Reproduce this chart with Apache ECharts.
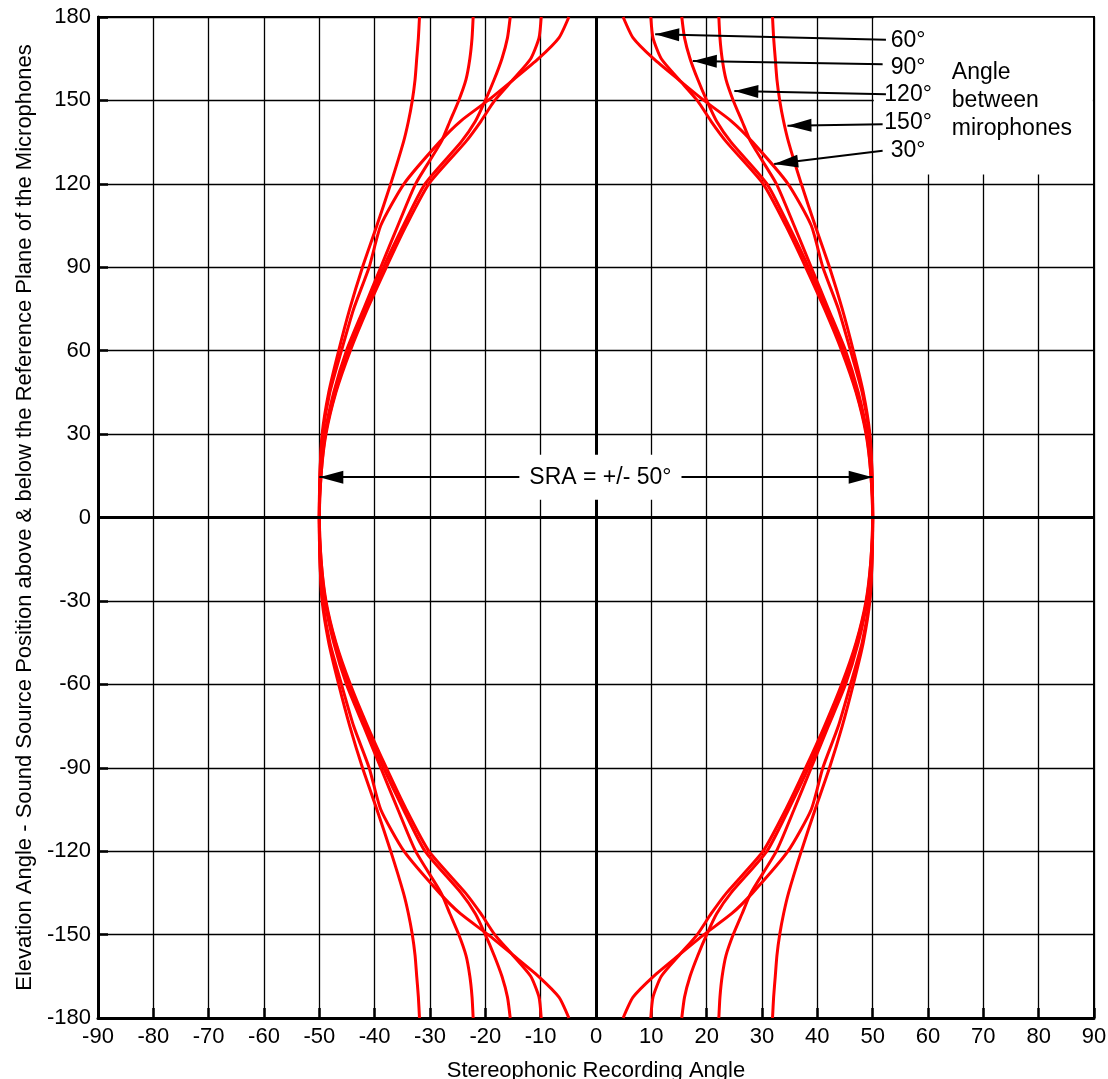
<!DOCTYPE html>
<html>
<head>
<meta charset="utf-8">
<script src="https://cdn.jsdelivr.net/npm/echarts@6/dist/echarts.min.js"></script>
<style>
  html, body { margin: 0; padding: 0; background: #fff; }
  #chart { width: 1108px; height: 1079px; }
</style>
</head>
<body>
<div id="chart"></div>
<script>
// elevation (deg) of the upper right quarter, curves are symmetric in x and y
const elevation = [0, 15, 30, 45, 60, 75, 90, 105, 120, 135, 142.5, 150, 157.5, 165, 172.5, 180];
// stereophonic recording angle, one list per microphone angle
const sra30 = [50, 49.9, 49.4, 48.1, 46.0, 43.8, 41.0, 38.9, 34.7, 28.3, 24.5, 19.5, 14.9, 10.4, 6.7, 4.9];
const sra60 = [50, 49.7, 48.8, 47.0, 44.4, 41.3, 37.9, 34.3, 30.2, 23.6, 20.8, 18.3, 15.0, 11.8, 10.3, 9.9];
const sra90 = [50, 49.7, 48.9, 47.1, 44.7, 41.6, 38.4, 34.8, 30.9, 24.4, 21.8, 20.0, 18.4, 17.0, 16.0, 15.5];
const sra120 = [50, 49.8, 49.0, 47.4, 45.1, 42.0, 38.9, 35.8, 32.6, 28.0, 26.4, 24.8, 23.5, 22.8, 22.4, 22.2];
const sra150 = [50, 49.9, 49.5, 48.3, 46.5, 44.5, 42.2, 39.6, 37.1, 34.8, 33.9, 33.2, 32.7, 32.4, 32.1, 31.9];

const curveNames = ["30°", "60°", "90°", "120°", "150°"];
const curveValues = [sra30, sra60, sra90, sra120, sra150];

// arrow from label [x, y] to the curve [x, y]
const labelArrows = [
  [52.4, 171.8, 10.7, 173.8],
  [51.8, 163.0, 17.5, 164.2],
  [52.4, 152.2, 25.0, 153.4],
  [51.8, 141.4, 34.6, 140.9],
  [51.8, 131.9, 32.2, 127.1],
];
const labelTexts = ["60°", "90°", "120°", "150°", "30°"];
const labelY = [171.6, 161.8, 152.0, 142.0, 131.9];

const font = "'Liberation Sans', Arial, Helvetica, sans-serif";

const myChart = echarts.init(document.getElementById("chart"));

// build one branch from -180 to 180, side = 1 right, -1 left
const branch = (vals, side) => {
  const pts = [];
  for (let i = elevation.length - 1; i > 0; i--) pts.push([side * vals[i], -elevation[i]]);
  for (let i = 0; i < elevation.length; i++) pts.push([side * vals[i], elevation[i]]);
  return pts;
};

const series = [];

// zero lines and white box behind the legend text
series.push({
  type: "line",
  data: [],
  z: 1,
  silent: true,
  markLine: {
    silent: true,
    symbol: "none",
    animation: false,
    label: { show: false },
    lineStyle: { color: "#000", width: 3, type: "solid" },
    data: [{ xAxis: 0 }, { yAxis: 0 }],
  },
  markArea: {
    silent: true,
    animation: false,
    itemStyle: { color: "#fff" },
    data: [[{ coord: [50.2, 123.4] }, { coord: [89.8, 179.7] }]],
  },
});

curveValues.forEach((vals, k) => {
  [1, -1].forEach((side) => {
    series.push({
      name: curveNames[k],
      type: "line",
      data: branch(vals, side),
      symbol: "none",
      smooth: 0.2,
      z: 3,
      silent: true,
      lineStyle: { color: "#ff0000", width: 3 },
    });
  });
});

const head = { symbol: "triangle", symbolSize: [13, 24], symbolOffset: [0, 12] };
const arrowData = labelArrows.map((a) => [
  { coord: [a[0], a[1]], symbol: "none" },
  Object.assign({ coord: [a[2], a[3]] }, head),
]);
arrowData.push([
  Object.assign({ coord: [-50, 14.5] }, head),
  Object.assign({ coord: [50, 14.5] }, head),
]);

const textStyle = { color: "#000", fontSize: 23, fontFamily: font, opacity: 1 };
const labelData = labelTexts.map((t, i) => ({
  value: [56.4, labelY[i]],
  label: Object.assign({ show: true, position: "inside", formatter: t }, textStyle),
}));
labelData.push({
  value: [64.3, 150.0],
  label: Object.assign(
    { show: true, position: "right", distance: 0, align: "left", lineHeight: 28, formatter: "Angle\nbetween\nmirophones" },
    textStyle
  ),
});
labelData.push({
  value: [0.8, 14.5],
  label: Object.assign(
    { show: true, position: "inside", formatter: "SRA = +/- 50°", backgroundColor: "#fff", padding: [11, 10] },
    textStyle
  ),
});

series.push({
  type: "scatter",
  data: labelData,
  symbolSize: 0,
  z: 10,
  silent: true,
  itemStyle: { opacity: 1, color: "#000" },
  markLine: {
    silent: true,
    animation: false,
    label: { show: false },
    lineStyle: { color: "#000", width: 2, type: "solid", opacity: 1 },
    itemStyle: { color: "#000", opacity: 1 },
    data: arrowData,
  },
});

myChart.setOption({
  animation: false,
  backgroundColor: "#fff",
  grid: {
    left: 98,
    right: 14,
    top: 17,
    bottom: 61,
    outerBoundsMode: "none",
    containLabel: false,
    show: true,
    borderColor: "#000",
    borderWidth: 2,
    backgroundColor: "#fff",
  },
  xAxis: {
    type: "value",
    min: -90,
    max: 90,
    interval: 10,
    name: "Stereophonic Recording Angle",
    nameLocation: "middle",
    nameGap: 42,
    nameTextStyle: { color: "#000", fontSize: 22, fontFamily: font },
    axisLine: { onZero: false, lineStyle: { color: "#000", width: 3 } },
    axisTick: { inside: true, length: 10, lineStyle: { color: "#000", width: 2.5 } },
    axisLabel: { color: "#000", fontSize: 22, fontFamily: font, margin: 8 },
    splitLine: { show: true, lineStyle: { color: "#000", width: 1.3 } },
  },
  yAxis: {
    type: "value",
    min: -180,
    max: 180,
    interval: 30,
    name: "Elevation Angle - Sound Source Position above & below the Reference Plane of the Microphones",
    nameLocation: "middle",
    nameGap: 62,
    nameTextStyle: { color: "#000", fontSize: 22, fontFamily: font },
    axisLine: { show: true, onZero: false, lineStyle: { color: "#000", width: 3 } },
    axisTick: { show: true, inside: true, length: 10, lineStyle: { color: "#000", width: 2.5 } },
    axisLabel: { color: "#000", fontSize: 22, fontFamily: font, margin: 7 },
    splitLine: { show: true, lineStyle: { color: "#000", width: 1.3 } },
  },
  series: series,
});
</script>
</body>
</html>
